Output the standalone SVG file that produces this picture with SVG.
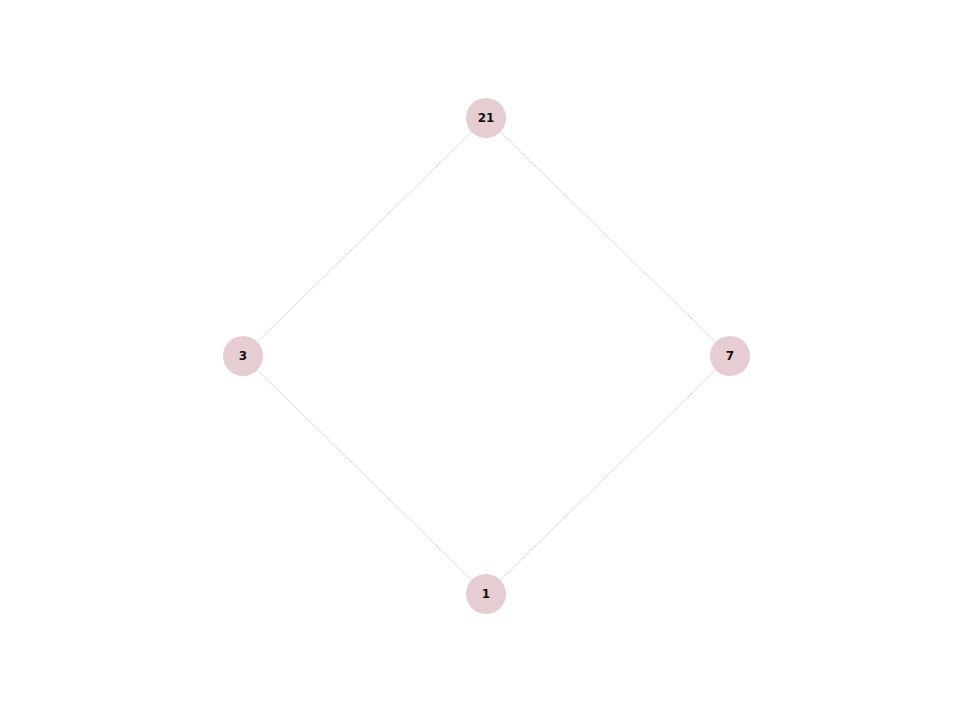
<svg xmlns="http://www.w3.org/2000/svg" width="973" height="713" viewBox="0 0 973 713">
<style>
.edge{stroke:#cfcfcf;stroke-width:0.8;fill:none}
.node circle{fill:#e5cdd2}
.node text{font-family:"DejaVu Sans",sans-serif;font-size:12px;font-weight:bold;fill:#111;text-anchor:middle;dominant-baseline:central}
</style>
<rect width="973" height="713" fill="#fff"/>
<g id="edges">
<line class="edge" x1="486" y1="118" x2="243" y2="356"/>
<line class="edge" x1="486" y1="118" x2="730" y2="356"/>
<line class="edge" x1="243" y1="356" x2="486" y2="594"/>
<line class="edge" x1="730" y1="356" x2="486" y2="594"/>
</g>
<g id="n21" class="node"><circle cx="486" cy="118" r="20"/><text x="486" y="118">21</text></g>
<g id="n3" class="node"><circle cx="243" cy="356" r="20"/><text x="243" y="356">3</text></g>
<g id="n7" class="node"><circle cx="730" cy="356" r="20"/><text x="730" y="356">7</text></g>
<g id="n1" class="node"><circle cx="486" cy="594" r="20"/><text x="486" y="594">1</text></g>
</svg>
